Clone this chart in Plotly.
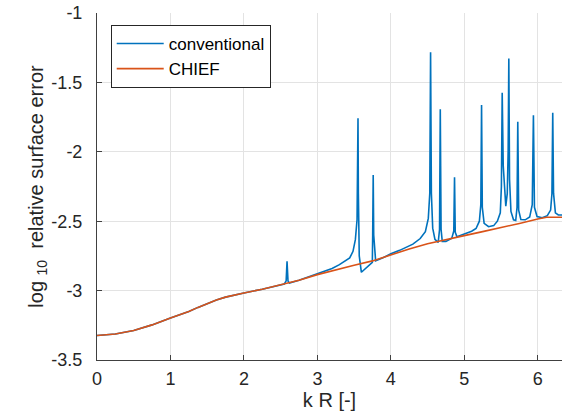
import plotly.graph_objects as go

# CHIEF series
chief_x = [0, 0.25, 0.5, 0.75, 1.0, 1.125, 1.25, 1.375, 1.5, 1.625, 1.75, 1.875, 2.0, 2.25,
           2.5, 2.75, 3.0, 3.25, 3.5, 3.75, 4.0, 4.25, 4.5, 4.75, 5.0, 5.25, 5.5, 5.75,
           6.0, 6.12, 6.33]
chief_y = [-3.324, -3.313, -3.288, -3.247, -3.197, -3.174, -3.150, -3.121, -3.092, -3.068,
           -3.047, -3.030, -3.017, -2.990, -2.960, -2.925, -2.885, -2.850, -2.818, -2.786,
           -2.741, -2.700, -2.662, -2.635, -2.604, -2.575, -2.547, -2.516, -2.484, -2.472,
           -2.472]

# conventional series
conv_x = [0, 0.25, 0.5, 0.75, 1.0, 1.125, 1.25, 1.375, 1.5, 1.625, 1.75, 1.875, 2.0, 2.25,
          2.5, 2.55, 2.575, 2.587, 2.6, 2.62, 2.75, 3.0, 3.1, 3.2, 3.3, 3.44, 3.485, 3.517,
          3.54, 3.548, 3.553, 3.558, 3.57, 3.599, 3.748, 3.753, 3.76, 3.767, 3.793, 3.9,
          4.0, 4.12, 4.3, 4.4, 4.47, 4.51, 4.53, 4.541, 4.552, 4.57, 4.6, 4.645, 4.663,
          4.673, 4.684, 4.7, 4.75, 4.83, 4.857, 4.867, 4.877, 4.9, 5.0, 5.1, 5.16, 5.205,
          5.225, 5.235, 5.245, 5.27, 5.33, 5.4, 5.45, 5.49, 5.505, 5.516, 5.53, 5.55,
          5.565, 5.585, 5.597, 5.606, 5.616, 5.635, 5.67, 5.7, 5.718, 5.728, 5.74, 5.77,
          5.83, 5.89, 5.925, 5.941, 5.955, 5.99, 6.06, 6.13, 6.175, 6.193, 6.204, 6.215,
          6.24, 6.28, 6.33]
conv_y = [-3.324, -3.313, -3.288, -3.247, -3.197, -3.174, -3.150, -3.121, -3.092, -3.068,
          -3.047, -3.030, -3.017, -2.990, -2.960, -2.952, -2.93, -2.789, -2.93, -2.946,
          -2.925, -2.880, -2.862, -2.840, -2.813, -2.765, -2.717, -2.633, -2.49, -2.2,
          -1.759, -2.3, -2.75, -2.868, -2.796, -2.6, -2.167, -2.6, -2.785, -2.762, -2.735,
          -2.710, -2.665, -2.625, -2.575, -2.48, -2.3, -1.283, -2.3, -2.55, -2.63, -2.652,
          -2.56, -1.694, -2.56, -2.645, -2.645, -2.622, -2.57, -2.184, -2.58, -2.612,
          -2.593, -2.572, -2.553, -2.5, -2.38, -1.663, -2.4, -2.515, -2.54, -2.532, -2.5,
          -2.44, -2.25, -1.574, -2.1, -2.33, -2.392, -2.3, -2.0, -1.327, -2.2, -2.43, -2.49,
          -2.495, -2.4, -1.783, -2.42, -2.488, -2.49, -2.47, -2.38, -1.737, -2.4, -2.466,
          -2.475, -2.46, -2.42, -2.3, -1.718, -2.3, -2.44, -2.455, -2.455]

x_ticks = [0, 1, 2, 3, 4, 5, 6]
y_ticks = [-3.5, -3, -2.5, -2, -1.5, -1]
y_tick_text = ["-3.5", "-3", "-2.5", "-2", "-1.5", "-1"]
series_names = ["conventional", "CHIEF"]

FONT = "Liberation Sans, Arial, Helvetica, sans-serif"
TXT = "#262626"

fig = go.Figure()
fig.add_trace(go.Scatter(x=conv_x, y=conv_y, mode="lines", name=series_names[0],
                         line=dict(color="#0072BD", width=1.6)))
fig.add_trace(go.Scatter(x=chief_x, y=chief_y, mode="lines", name=series_names[1],
                         line=dict(color="#D95319", width=1.6)))

axis_common = dict(
    showgrid=True, gridcolor="#e3e3e3", gridwidth=1,
    showline=True, linecolor="#404040", linewidth=1, mirror=False,
    ticks="inside", ticklen=5, tickcolor="#404040",
    zeroline=False, automargin=False,
    tickfont=dict(family=FONT, size=18, color=TXT),
)

fig.update_xaxes(range=[0, 6.33], tickvals=x_ticks, ticktext=[str(v) for v in x_ticks],
                 ticklabelstandoff=2,
                 title=dict(text="k R [-]", font=dict(family=FONT, size=20, color=TXT),
                            standoff=4),
                 **axis_common)
fig.update_yaxes(range=[-3.5, -1], tickvals=y_ticks, ticktext=y_tick_text,
                 ticklabelstandoff=10,
                 title=dict(text="log <sub>10</sub>  relative surface error",
                            font=dict(family=FONT, size=20, color=TXT), standoff=2),
                 **axis_common)

fig.update_layout(
    width=563, height=420,
    margin=dict(l=97, r=1, t=13, b=59.5, autoexpand=False),
    plot_bgcolor="white", paper_bgcolor="white",
    legend=dict(x=0.0295, y=0.9655, xanchor="left", yanchor="top",
                bgcolor="white", bordercolor="#262626", borderwidth=1,
                font=dict(family=FONT, size=17, color="#000000"),
                itemwidth=47, tracegroupgap=0),
    showlegend=True,
)

fig.write_html("out.html", config={"displayModeBar": False},
               post_script="document.body.style.margin='0';document.body.style.overflow='hidden';")
